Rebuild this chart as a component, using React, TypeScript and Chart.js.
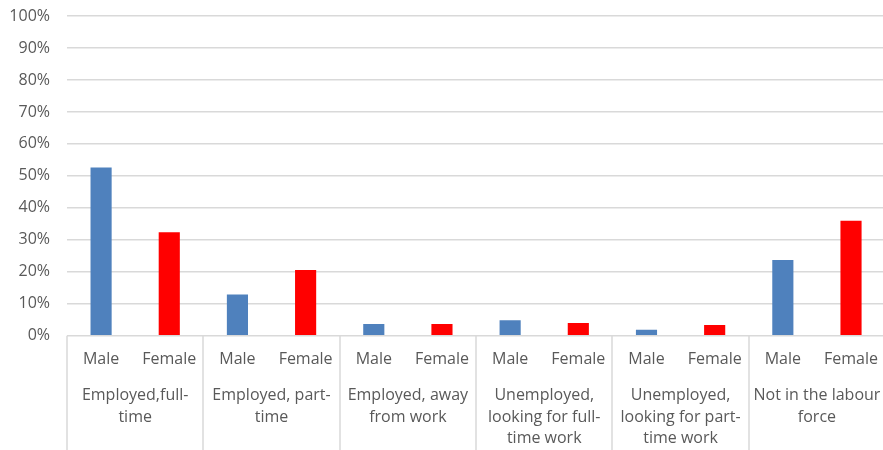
import React, { useEffect, useRef } from "react";
import { Chart, registerables } from "chart.js";

Chart.register(...registerables);

const groupLabels: string[][] = [
  ["Employed,full-", "time"],
  ["Employed, part-", "time"],
  ["Employed, away", "from work"],
  ["Unemployed,", "looking for full-", "time work"],
  ["Unemployed,", "looking for part-", "time work"],
  ["Not in the labour", "force"],
];
const genders = ["Male", "Female"];
const maleValues = [52.6, 12.9, 3.7, 4.9, 1.9, 23.7];
const femaleValues = [32.4, 20.6, 3.7, 4.0, 3.4, 36.0];
const genderColors = ["#4F81BD", "#FF0000"];

const FONT = "'Open Sans', sans-serif";
const TEXT = "#595959";
const GRID = "#D9D9D9";

export default function App() {
  const ref = useRef<HTMLCanvasElement | null>(null);

  useEffect(() => {
    if (!ref.current) return;
    const labels: string[] = [];
    const data: number[] = [];
    const colors: string[] = [];
    groupLabels.forEach((_, i) => {
      labels.push(genders[0], genders[1]);
      data.push(maleValues[i], femaleValues[i]);
      colors.push(genderColors[0], genderColors[1]);
    });

    const groupPlugin = {
      id: "groupPlugin",
      afterDraw(chart: any) {
        const ctx = chart.ctx;
        const x = chart.scales.x;
        const area = chart.chartArea;
        const bottom = chart.height;
        ctx.save();
        ctx.strokeStyle = GRID;
        ctx.lineWidth = 1.5;
        const boundaries: number[] = [area.left];
        for (let g = 1; g < groupLabels.length; g++) {
          boundaries.push(
            (x.getPixelForValue(2 * g - 1) + x.getPixelForValue(2 * g)) / 2
          );
        }
        boundaries.push(area.right);
        boundaries.forEach((bx) => {
          const px = Math.round(bx);
          ctx.beginPath();
          ctx.moveTo(px, area.bottom);
          ctx.lineTo(px, bottom);
          ctx.stroke();
        });
        ctx.fillStyle = TEXT;
        ctx.font = `16px ${FONT}`;
        ctx.textAlign = "center";
        ctx.textBaseline = "middle";
        groupLabels.forEach((lines, g) => {
          const cx =
            (x.getPixelForValue(2 * g) + x.getPixelForValue(2 * g + 1)) / 2;
          lines.forEach((t, j) => {
            ctx.fillText(t, cx, area.bottom + 60 + j * 21.5);
          });
        });
        ctx.restore();
      },
    };

    const chart = new Chart(ref.current, {
      type: "bar",
      data: {
        labels,
        datasets: [
          {
            data,
            backgroundColor: colors,
            categoryPercentage: 1,
            barPercentage: 0.31,
          },
        ],
      },
      options: {
        animation: false,
        responsive: true,
        maintainAspectRatio: false,
        layout: { padding: { top: 0, bottom: 67, left: 0, right: 0 } },
        plugins: { legend: { display: false }, tooltip: { enabled: false } },
        scales: {
          x: {
            grid: { display: false, drawTicks: false },
            border: { display: false },
            ticks: {
              color: TEXT,
              font: { family: FONT, size: 16 },
              padding: 14,
              maxRotation: 0,
              autoSkip: false,
            },
          },
          y: {
            min: 0,
            max: 100,
            afterFit: (s: any) => {
              s.width = 67;
              s.paddingTop = 16;
            },
            grid: { color: GRID, lineWidth: 1.5, drawTicks: false },
            border: { display: false },
            ticks: {
              stepSize: 10,
              color: TEXT,
              font: { family: FONT, size: 16 },
              padding: 17,
              callback: (v: any) => `${v}%`,
            },
          },
        },
      },
      plugins: [groupPlugin],
    });
    return () => chart.destroy();
  }, []);

  return (
    <div
      style={{
        position: "fixed",
        left: 0,
        top: 0,
        width: 883,
        height: 450,
        overflow: "hidden",
        background: "#fff",
      }}
    >
      <div style={{ position: "relative", width: 892, height: 450 }}>
        <canvas ref={ref} />
      </div>
    </div>
  );
}
